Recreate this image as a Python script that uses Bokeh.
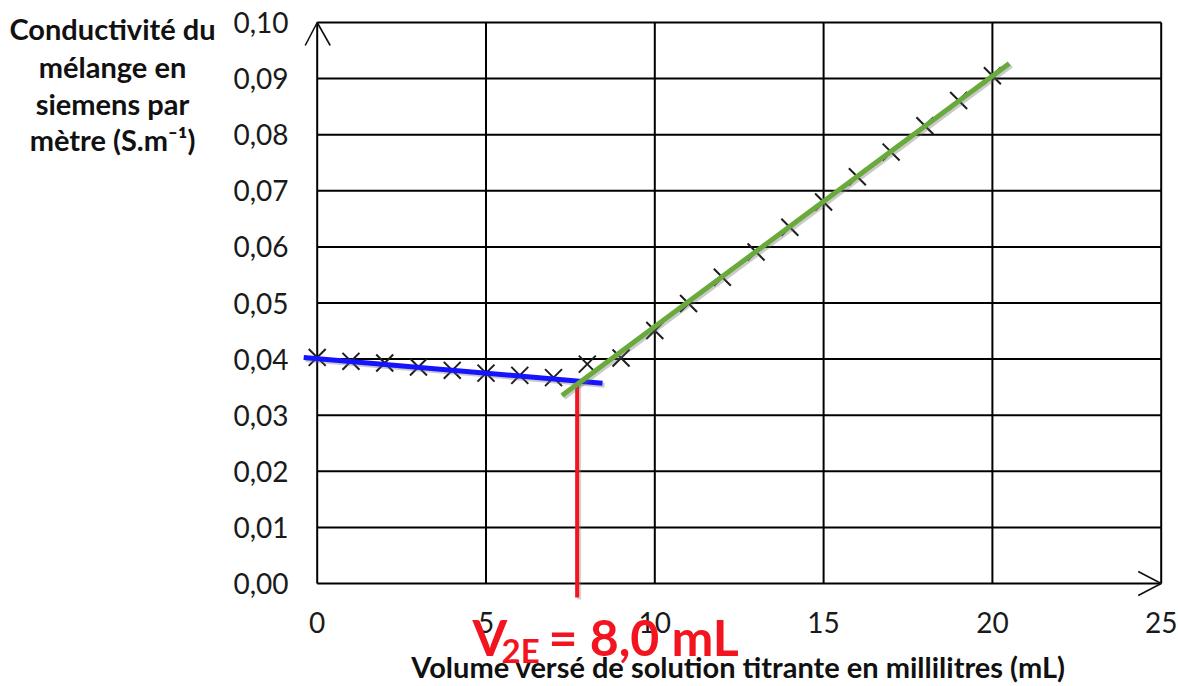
from bokeh.plotting import figure
from bokeh.core.properties import value
from bokeh.embed import file_html
from bokeh.resources import INLINE

# ---------------- data ----------------
volume_ml = [0, 1, 2, 3, 4, 5, 6, 7, 8, 9, 10, 11, 12, 13, 14, 15, 16, 17, 18, 19, 20]
conductivity = [0.0403, 0.0396, 0.0393, 0.0386, 0.0380, 0.0375, 0.0371, 0.0367, 0.0391, 0.0402,
                0.0451, 0.0499, 0.0546, 0.0591, 0.0635, 0.0680, 0.0725, 0.0769, 0.0816, 0.0861, 0.0905]

blue_fit_x = [-0.4, 8.45]
blue_fit_y = [0.0403, 0.0357]
green_fit_x = [7.25, 20.5]
green_fit_y = [0.0335, 0.0927]

equivalence_x = [7.7, 7.7]
equivalence_y = [0.0358, -0.0025]

x_ticks = [0, 5, 10, 15, 20, 25]
x_tick_labels = ["0", "5", "10", "15", "20", "25"]
y_ticks = [0.0, 0.01, 0.02, 0.03, 0.04, 0.05, 0.06, 0.07, 0.08, 0.09, 0.1]
y_tick_labels = ["0,00", "0,01", "0,02", "0,03", "0,04", "0,05", "0,06", "0,07", "0,08", "0,09", "0,10"]

x_title = "Volume versé de solution titrante en millilitres (mL)"
y_title_lines = ["Conductivité du", "mélange en", "siemens par", "mètre (S.m\u207b\u00b9)"]
annot_main = "V"
annot_sub = "2E"
annot_rest = "= 8,0 mL"

# ---------------- layout (pixels) ----------------
W, H = 1178, 686
X0P, X25P = 316.7, 1160.7      # px of x=0 and x=25
Y0P, Y10P = 583.0, 22.0        # px of y=0 and y=0.10
XS = (X25P - X0P) / 25.0
YS = (Y0P - Y10P) / 0.10
x_start = -X0P / XS
x_end = 25 + (W - X25P) / XS
y_start = -(H - Y0P) / YS
y_end = 0.10 + Y10P / YS


def wx(px):
    return (px - X0P) / XS


def wy(py):
    return (Y0P - py) / YS


p = figure(width=W, height=H, x_range=(x_start, x_end), y_range=(y_start, y_end),
           output_backend="svg", toolbar_location=None,
           min_border_left=0, min_border_right=0, min_border_top=0, min_border_bottom=0)
p.outline_line_color = None
p.grid.visible = False
p.axis.visible = False
p.background_fill_color = "white"
p.border_fill_color = "white"

# ---------------- grid & axes ----------------
gx = list(x_ticks[1:])
p.segment(x0=gx, y0=[y_ticks[0]] * len(gx), x1=gx, y1=[y_ticks[-1]] * len(gx),
          line_color="black", line_width=2)
gy = list(y_ticks[1:])
p.segment(x0=[x_ticks[0]] * len(gy), y0=gy, x1=[x_ticks[-1]] * len(gy), y1=gy,
          line_color="black", line_width=2)
p.segment(x0=[x_ticks[0], x_ticks[0]], y0=[y_ticks[0], y_ticks[0]],
          x1=[x_ticks[0], x_ticks[-1]], y1=[y_ticks[-1], y_ticks[0]],
          line_color="black", line_width=2)
ytip = (x_ticks[0], y_ticks[-1])
xtip = (x_ticks[-1], y_ticks[0])
p.multi_line(
    xs=[[ytip[0] - 12 / XS, ytip[0], ytip[0] + 13 / XS],
        [xtip[0] - 23 / XS, xtip[0], xtip[0] - 23 / XS]],
    ys=[[ytip[1] - 23 / YS, ytip[1], ytip[1] - 23 / YS],
        [xtip[1] + 12 / YS, xtip[1], xtip[1] - 12 / YS]],
    line_color="#111111", line_width=1.6)

# ---------------- tick labels ----------------
p.text(x=[wx(288)] * len(y_ticks), y=y_ticks, text=y_tick_labels,
       text_align="right", text_baseline="middle", text_font=value("Lato"),
       text_font_size=value("28px"), text_color="#1a1a1a")
p.text(x=x_ticks, y=[wy(622)] * len(x_ticks), text=x_tick_labels,
       text_align="center", text_baseline="middle", text_font=value("Lato"),
       text_font_size=value("28px"), text_color="#1a1a1a")

# ---------------- data marks ----------------
p.scatter(volume_ml, conductivity, marker="x", size=24, line_color="#1e1e1e", line_width=2)

sdx, sdy = 2 / XS, -2 / YS
red = "#f2141f"
p.line([v + sdx for v in equivalence_x], [v + sdy for v in equivalence_y],
       line_color="#888888", line_alpha=0.35, line_width=4)
p.line(equivalence_x, equivalence_y, line_color=red, line_width=4)

p.line([v + sdx for v in blue_fit_x], [v + sdy for v in blue_fit_y],
       line_color="#666666", line_alpha=0.35, line_width=5)
p.line(blue_fit_x, blue_fit_y, line_color="#1414ff", line_width=5)

p.line([v + sdx for v in green_fit_x], [v + sdy for v in green_fit_y],
       line_color="#666666", line_alpha=0.35, line_width=5)
p.line(green_fit_x, green_fit_y, line_color="#6aaa3c", line_width=5)

# ---------------- titles ----------------
p.text(x=[wx(112)] * len(y_title_lines), y=[wy(m) for m in (28, 66, 103, 139)],
       text=y_title_lines, text_align="center", text_baseline="middle",
       text_font=value("Lato"), text_font_style="bold", text_font_size=value("29px"),
       text_color="#111111")

p.text(x=[wx(738)], y=[wy(666)], text=[x_title], text_align="center",
       text_baseline="middle", text_font=value("Lato"), text_font_style="bold",
       text_font_size=value("29px"), text_color="#111111")

p.text(x=[wx(472)], y=[wy(636)], text=[annot_main], text_align="left",
       text_baseline="middle", text_font=value("Lato"), text_font_style="bold",
       text_font_size=value("50px"), text_color=red)
p.text(x=[wx(501)], y=[wy(649)], text=[annot_sub], text_align="left",
       text_baseline="middle", text_font=value("Lato"), text_font_style="bold",
       text_font_size=value("33px"), text_color=red)
p.text(x=[wx(548)], y=[wy(636)], text=[annot_rest], text_align="left",
       text_baseline="middle", text_font=value("Lato"), text_font_style="bold",
       text_font_size=value("50px"), text_color=red)

open("out.html", "w").write(file_html(p, INLINE))
